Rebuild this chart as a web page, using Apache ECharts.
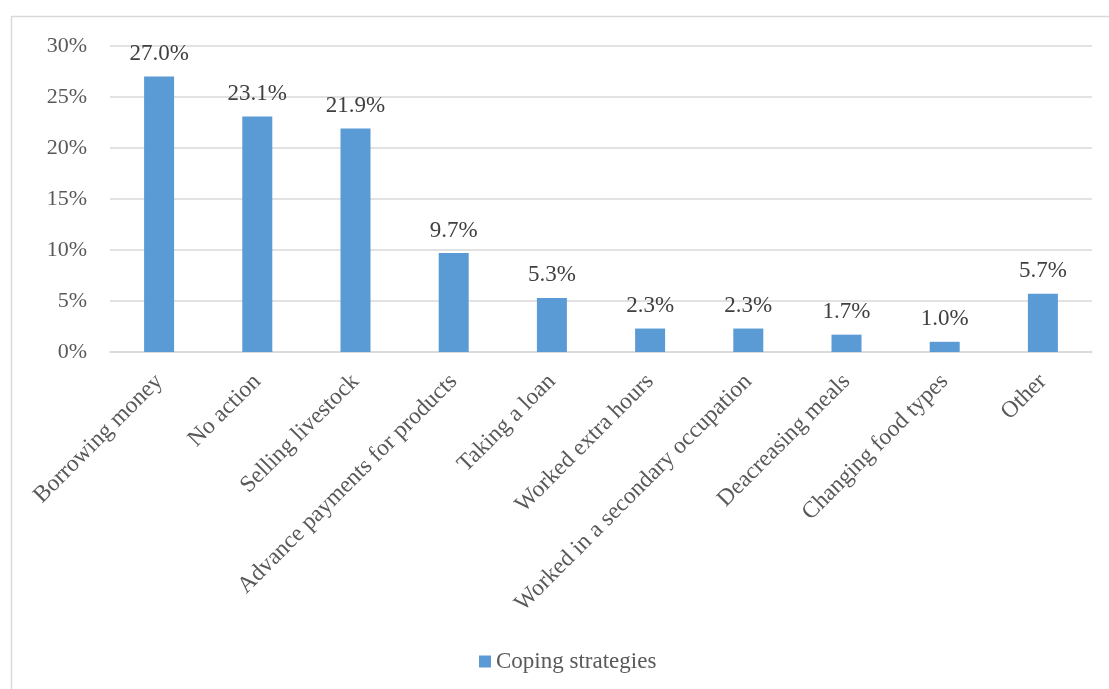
<!DOCTYPE html>
<html>
<head>
<meta charset="utf-8">
<script src="https://cdn.jsdelivr.net/npm/echarts@6/dist/echarts.min.js"></script>
<style>
  html, body { margin: 0; padding: 0; background: #fff; }
  #chart { width: 1109px; height: 689px; }
</style>
</head>
<body>
<div id="chart"></div>
<script>
// Coping strategies and the share of households using each
const categories = [
  'Borrowing money',
  'No action',
  'Selling livestock',
  'Advance payments for products',
  'Taking a loan',
  'Worked extra hours',
  'Worked in a secondary occupation',
  'Deacreasing meals',
  'Changing food types',
  'Other'
];
const shares = [27.0, 23.1, 21.9, 9.7, 5.3, 2.3, 2.3, 1.7, 1.0, 5.7];
const seriesName = 'Coping strategies';
const yTicks = [0, 5, 10, 15, 20, 25, 30];

const font = '"Liberation Serif", "Times New Roman", serif';
const chart = echarts.init(document.getElementById('chart'), null, { renderer: 'canvas' });

chart.setOption({
  backgroundColor: '#ffffff',
  animation: false,
  graphic: [{
    type: 'rect',
    shape: { x: 11.5, y: 16.5, width: 1120, height: 700 },
    style: { fill: 'none', stroke: '#d9d9d9', lineWidth: 1.5 },
    silent: true,
    z: -1
  }],
  legend: {
    bottom: 11,
    left: 474,
    itemWidth: 12,
    itemHeight: 12,
    itemGap: 5,
    icon: 'rect',
    textStyle: { fontFamily: font, fontSize: 23, color: '#595959' },
    data: [seriesName]
  },
  grid: { left: 110, right: 17, top: 46, bottom: 337, containLabel: false },
  xAxis: {
    type: 'category',
    data: categories,
    axisLine: { show: true, lineStyle: { color: '#d9d9d9', width: 1.5 } },
    axisTick: { show: false },
    axisLabel: {
      interval: 0,
      rotate: 45,
      margin: 26,
      fontFamily: font,
      fontSize: 23.5,
      color: '#595959'
    }
  },
  yAxis: {
    type: 'value',
    min: yTicks[0],
    max: yTicks[yTicks.length - 1],
    interval: 5,
    axisLine: { show: false },
    axisTick: { show: false },
    splitLine: { lineStyle: { color: '#d9d9d9', width: 1.5 } },
    axisLabel: {
      margin: 23,
      fontFamily: font,
      fontSize: 22,
      color: '#595959',
      formatter: v => v + '%'
    }
  },
  series: [{
    name: seriesName,
    type: 'bar',
    data: shares,
    barWidth: 30,
    itemStyle: { color: '#5b9bd5' },
    label: {
      show: true,
      position: 'top',
      distance: 11,
      fontFamily: font,
      fontSize: 23,
      color: '#404040',
      formatter: p => p.value.toFixed(1) + '%'
    }
  }]
});
</script>
</body>
</html>
